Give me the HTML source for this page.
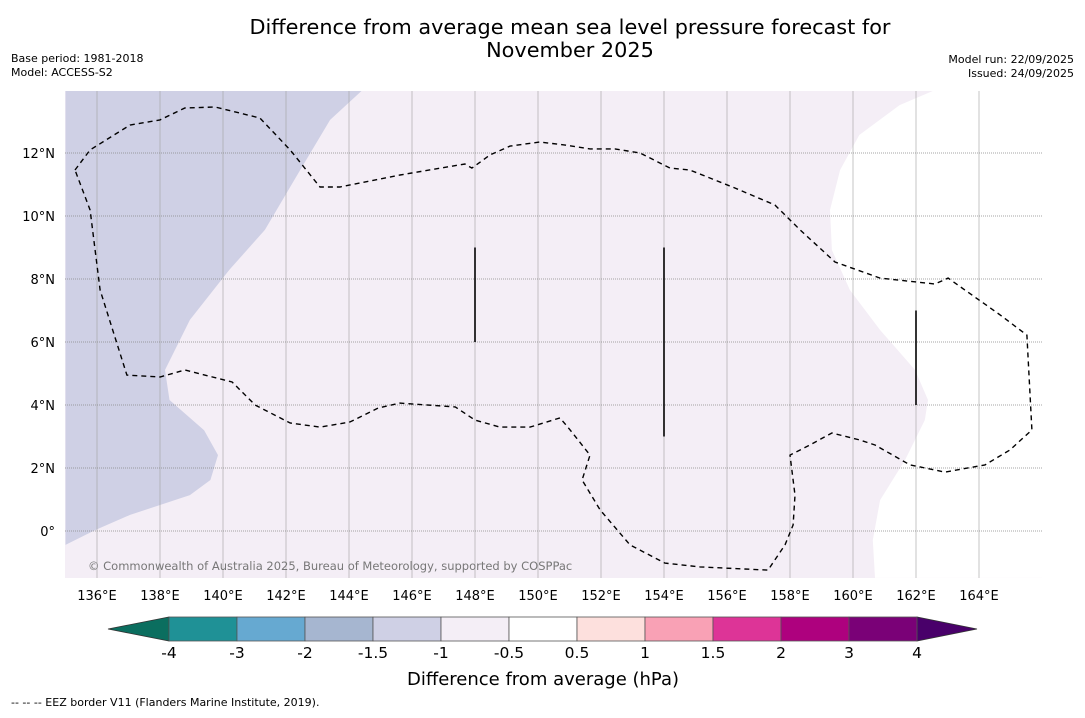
<!DOCTYPE html>
<html><head><meta charset="utf-8"><style>
body{margin:0;background:#fff;font-family:"Liberation Sans","DejaVu Sans",sans-serif}
svg text{font-family:"DejaVu Sans","Liberation Sans",sans-serif}
</style></head><body>
<svg id="c" width="1085" height="713" xmlns="http://www.w3.org/2000/svg">
<text x="570" y="34" font-size="20.8" text-anchor="middle">Difference from average mean sea level pressure forecast for</text>
<text x="570" y="57" font-size="20.8" text-anchor="middle">November 2025</text>
<text x="11" y="62" font-size="11">Base period: 1981-2018</text>
<text x="11" y="76" font-size="11">Model: ACCESS-S2</text>
<text x="1074" y="63" font-size="11" text-anchor="end">Model run: 22/09/2025</text>
<text x="1074" y="77" font-size="11" text-anchor="end">Issued: 24/09/2025</text>
<g id="map"></g>
<g id="cb"></g>
<text x="543" y="685" font-size="18" text-anchor="middle">Difference from average (hPa)</text>
<text x="11" y="706" font-size="11">--  --  -- EEZ border V11 (Flanders Marine Institute, 2019).</text>
</svg>
<script>
const lonTicks=[136,138,140,142,144,146,148,150,152,154,156,158,160,162,164];
const latTicks=[0,2,4,6,8,10,12];
const cbLevels=[-4,-3,-2,-1.5,-1,-0.5,0.5,1,1.5,2,3,4];
const cbColors=["#1f9196","#66a9d1","#a6b6d0","#cfd0e5","#f4eef6","#ffffff","#fde0dd","#f9a1b5","#dd3497","#ae017e","#7a0177"];
const blueLon=[135,144.4,143.4,142.45,141.33,140.2,138.95,138.16,138.3,139.4,139.84,139.6,138.95,137.05,135.94,135];
const blueLat=[13.97,13.97,13.05,11.46,9.56,8.29,6.7,5.11,4.16,3.2,2.41,1.62,1.14,0.51,0.03,-0.44];
const whiteLon=[162.54,166,166,160.7,160.63,160.86,161.65,162.28,162.38,161.97,160.86,159.9,159.33,159.27,159.59,160.2,161.48];
const whiteLat=[13.97,13.97,-1.49,-1.49,-0.29,0.98,2.25,3.52,4.16,5.11,6.38,7.65,8.92,10.19,11.46,12.57,13.52];
const eezLon=[135.3,135.78,137.05,138.0,138.79,139.75,141.17,142.13,143.08,143.71,145.62,147.68,147.9,148.48,149.11,150.06,150.86,151.65,152.44,153.24,154.19,154.82,156.25,157.52,158.32,159.43,160.86,162.6,163.02,164.67,165.52,165.68,164.98,164.19,162.92,161.81,160.7,160.22,159.33,158.63,158.0,158.16,158.1,157.84,157.3,155.14,154.03,152.92,151.97,151.4,151.65,151.02,150.7,149.75,148.79,148.0,147.37,145.62,144.92,144.03,143.08,142.13,141.02,140.29,138.79,138.0,136.95,136.1,135.78,135.3];
const eezLat=[11.46,12.1,12.89,13.05,13.43,13.46,13.11,12.1,10.92,10.92,11.3,11.65,11.52,11.94,12.22,12.35,12.25,12.13,12.13,12.0,11.52,11.46,10.89,10.35,9.56,8.54,8.03,7.84,8.03,6.86,6.22,3.21,2.57,2.1,1.87,2.1,2.73,2.89,3.11,2.73,2.41,1.14,0.19,-0.44,-1.24,-1.14,-1.02,-0.44,0.67,1.62,2.41,3.21,3.59,3.3,3.3,3.52,3.94,4.06,3.9,3.46,3.3,3.43,4.0,4.73,5.11,4.89,4.95,7.65,10.19,11.46];
const segLon=[148,154,162], segLat0=[6,3,4], segLat1=[9,9,7];
const NS="http://www.w3.org/2000/svg";
const X0=65,X1=1042,Y0=91,Y1=578;
const lx=l=>65.5+(l-135)*31.5, ly=l=>531-l*31.5;
function mk(t,a,p){const e=document.createElementNS(NS,t);for(const k in a)e.setAttribute(k,a[k]);(p||document.getElementById('map')).appendChild(e);return e;}
const bg=mk('rect',{x:X0,y:Y0,width:X1-X0,height:Y1-Y0,fill:'#f4eef6'});


const pts=(a,b)=>a.map((v,i)=>lx(v).toFixed(1)+','+ly(b[i]).toFixed(1)).join(' ');
const cp=mk('clipPath',{id:'clp'});mk('rect',{x:X0,y:Y0,width:X1-X0,height:Y1-Y0},cp);
const g=mk('g',{'clip-path':'url(#clp)'});
const bl=mk('polygon',{points:pts(blueLon,blueLat),fill:'#cfd0e5'},g);


const wh=mk('polygon',{points:pts(whiteLon,whiteLat),fill:'#ffffff'},g);


lonTicks.forEach(l=>{const x=lx(l);
 const gl=mk('line',{x1:x,x2:x,y1:Y0,y2:Y1,stroke:'#a0a0a0',"stroke-width":0.6},g);
 
 
 const t=mk('text',{x:x,y:600,"font-size":13,"text-anchor":"middle"});t.textContent=l+'°E';
 
 });
latTicks.forEach(l=>{const y=ly(l);
 const gl=mk('line',{x1:X0,x2:X1,y1:y,y2:y,stroke:'#888',"stroke-width":0.8,"stroke-dasharray":"1,1"},g);
 
 
 const t=mk('text',{x:55,y:y+5,"font-size":13,"text-anchor":"end"});t.textContent=(l===0?'0°':l+'°N');
 
 });
const ez=mk('polyline',{points:pts(eezLon,eezLat),fill:'none',stroke:'#000',"stroke-width":1.4,"stroke-dasharray":"5,4"},g);


segLon.forEach((l,i)=>{const s=mk('line',{x1:lx(l),x2:lx(l),y1:ly(segLat0[i]),y2:ly(segLat1[i]),stroke:'#000',"stroke-width":1.6},g);
 
 });
const cr=mk('text',{x:88,y:570,"font-size":11.5,fill:'#777'},g);cr.textContent='© Commonwealth of Australia 2025, Bureau of Meteorology, supported by COSPPac';


const cb=document.getElementById('cb');
const cbx=v=>169+cbLevels.indexOf(v)*68;
const CY0=617,CY1=641;
const l1=mk('polygon',{points:`108,629 169,${CY0} 169,${CY1}`,fill:'#0b6e5f',stroke:'#333',"stroke-width":0.8},cb);


const r1=mk('polygon',{points:`977,629 917,${CY0} 917,${CY1}`,fill:'#49006a',stroke:'#333',"stroke-width":0.8},cb);


cbColors.forEach((c,i)=>{const x0=cbx(cbLevels[i]),x1=cbx(cbLevels[i+1]);
 const r=mk('rect',{x:x0,y:CY0,width:x1-x0,height:CY1-CY0,fill:c,stroke:'#555',"stroke-width":0.8},cb);
 
 });
cbLevels.forEach(v=>{const t=mk('text',{x:cbx(v),y:658,"font-size":15.5,"text-anchor":"middle"},cb);t.textContent=String(v);
 
 });
</script>
</body></html>
